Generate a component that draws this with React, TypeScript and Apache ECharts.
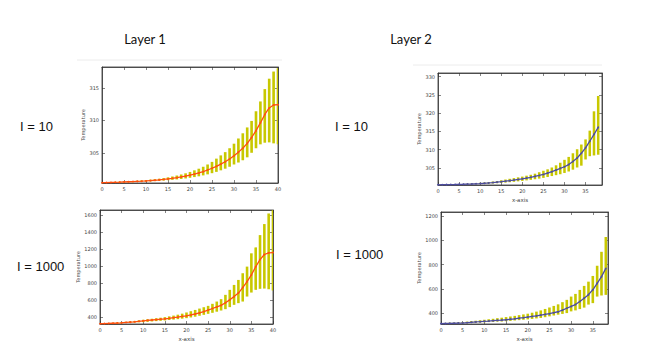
import React, { useEffect, useRef } from "react";
import * as echarts from "echarts";

// ---------- data ----------
const layer1I10Mean = [300.40, 300.42, 300.44, 300.46, 300.48, 300.51, 300.54, 300.57, 300.60, 300.63, 300.67, 300.72, 300.77, 300.83, 300.90, 300.98, 301.07, 301.17, 301.28, 301.41, 301.56, 301.72, 301.90, 302.10, 302.35, 302.62, 302.92, 303.25, 303.62, 304.05, 304.55, 305.10, 305.70, 306.45, 307.35, 308.40, 309.60, 310.90, 311.90, 312.35, 312.40];
const layer1I10High = [300.46, 300.48, 300.50, 300.53, 300.55, 300.58, 300.62, 300.66, 300.70, 300.75, 300.80, 300.86, 300.93, 301.01, 301.10, 301.22, 301.35, 301.50, 301.66, 301.84, 302.05, 302.30, 302.55, 302.85, 303.20, 303.60, 304.10, 304.60, 305.10, 305.70, 306.40, 307.20, 308.00, 308.90, 309.90, 311.40, 312.90, 314.80, 316.40, 317.50, 318.00];
const layer1I10Low = [300.33, 300.35, 300.37, 300.39, 300.41, 300.43, 300.46, 300.48, 300.51, 300.54, 300.57, 300.60, 300.64, 300.68, 300.73, 300.78, 300.84, 300.90, 300.97, 301.05, 301.15, 301.26, 301.38, 301.52, 301.68, 301.86, 302.06, 302.30, 302.55, 302.85, 303.20, 303.50, 303.85, 304.30, 305.00, 305.70, 306.30, 306.55, 306.60, 306.45, 306.30];

const layer1I1000Mean = [318, 320, 322, 324, 326, 329, 333, 337, 341, 347, 353, 358, 362, 367, 371, 376, 382, 389, 396, 404, 412, 422, 433, 446, 462, 480, 498, 516, 535, 565, 600, 638, 680, 745, 815, 894, 990, 1075, 1135, 1155, 1158];
const layer1I1000High = [322, 324, 327, 330, 333, 337, 341, 346, 351, 358, 365, 371, 377, 383, 389, 396, 405, 414, 425, 437, 451, 466, 481, 497, 513, 529, 553, 580, 608, 659, 718, 776, 835, 914, 992, 1149, 1219, 1364, 1494, 1619, 1658];
const layer1I1000Low = [316, 317, 318, 320, 322, 325, 327, 330, 333, 335, 337, 341, 345, 349, 353, 357, 362, 367, 372, 378, 384, 392, 401, 412, 423, 435, 447, 460, 474, 490, 514, 541, 561, 580, 639, 686, 718, 730, 733, 725, 710];

const layer2I10Mean = [300.36, 300.38, 300.40, 300.42, 300.44, 300.47, 300.50, 300.54, 300.58, 300.63, 300.70, 300.78, 300.87, 300.97, 301.08, 301.20, 301.34, 301.49, 301.65, 301.82, 302.00, 302.20, 302.42, 302.66, 302.92, 303.20, 303.55, 303.95, 304.40, 304.85, 305.30, 305.90, 306.75, 307.70, 309.00, 310.50, 312.30, 314.20, 316.10];
const layer2I10High = [300.45, 300.47, 300.49, 300.51, 300.53, 300.56, 300.60, 300.65, 300.72, 300.80, 300.90, 301.00, 301.12, 301.25, 301.40, 301.60, 301.80, 302.00, 302.20, 302.40, 302.60, 302.85, 303.10, 303.40, 303.80, 304.20, 304.60, 305.10, 305.70, 306.40, 307.20, 308.00, 309.00, 310.10, 311.40, 312.80, 315.20, 320.50, 324.70];
const layer2I10Low = [300.30, 300.31, 300.32, 300.34, 300.36, 300.38, 300.40, 300.43, 300.46, 300.50, 300.54, 300.59, 300.65, 300.72, 300.80, 300.88, 300.97, 301.07, 301.18, 301.30, 301.43, 301.57, 301.72, 301.88, 302.05, 302.25, 302.50, 302.75, 303.00, 303.25, 303.60, 304.00, 304.50, 305.10, 305.60, 307.30, 308.20, 308.40, 308.60];

const layer2I1000Mean = [313, 314, 315, 316, 317, 318, 321, 324, 327, 329, 332, 334, 337, 340, 342, 345, 349, 353, 358, 362, 367, 372, 377, 383, 389, 395, 403, 411, 424, 440, 455, 470, 495, 523, 552, 592, 645, 700, 768];
const layer2I1000High = [318, 319, 321, 322, 324, 326, 330, 334, 337, 341, 345, 349, 353, 358, 362, 367, 372, 377, 383, 389, 395, 403, 412, 422, 434, 446, 459, 472, 490, 509, 536, 558, 591, 624, 659, 706, 790, 905, 1027];
const layer2I1000Low = [311, 311, 312, 313, 314, 315, 316, 318, 320, 322, 324, 326, 328, 330, 331, 333, 336, 339, 342, 345, 348, 352, 356, 360, 366, 373, 380, 387, 393, 400, 414, 422, 433, 445, 470, 482, 536, 545, 550];

const xTicksLayer1 = [0, 5, 10, 15, 20, 25, 30, 35, 40];
const xTicksLayer2 = [0, 5, 10, 15, 20, 25, 30, 35];
const yTicksP1 = [305, 310, 315];
const yTicksP2 = [400, 600, 800, 1000, 1200, 1400, 1600];
const yTicksP3 = [305, 310, 315, 320, 325, 330];
const yTicksP4 = [400, 600, 800, 1000, 1200];

const columnTitles = ["Layer 1", "Layer 2"];
const rowLabels = ["I = 10", "I = 1000"];

// ---------- layout ----------
const panels = [
  { grid: { left: 102, top: 67, width: 176, height: 116 }, xMax: 40, xTicks: xTicksLayer1, yMin: 300.35, yMax: 318.2, yTicks: yTicksP1, mean: layer1I10Mean, high: layer1I10High, low: layer1I10Low, lineColor: "#ff4f0f", xName: "", yGap: 16 },
  { grid: { left: 100, top: 210, width: 173, height: 114 }, xMax: 40, xTicks: xTicksLayer1, yMin: 315, yMax: 1660, yTicks: yTicksP2, mean: layer1I1000Mean, high: layer1I1000High, low: layer1I1000Low, lineColor: "#ff4f0f", xName: "x-axis", yGap: 19 },
  { grid: { left: 438, top: 73, width: 164, height: 112 }, xMax: 38.9, xTicks: xTicksLayer2, yMin: 300.3, yMax: 331, yTicks: yTicksP3, mean: layer2I10Mean, high: layer2I10High, low: layer2I10Low, lineColor: "#4d4d9e", xName: "x-axis", yGap: 16 },
  { grid: { left: 441, top: 212, width: 167, height: 112 }, xMax: 38.5, xTicks: xTicksLayer2, yMin: 310, yMax: 1233, yTicks: yTicksP4, mean: layer2I1000Mean, high: layer2I1000High, low: layer2I1000Low, lineColor: "#4d4d9e", xName: "x-axis", yGap: 20 },
];

const frame = "#333";
const labelStyle = { fontSize: 5, color: "#444", fontFamily: "DejaVu Sans" };
const plain = (v: number) => String(v);

export default function App() {
  const ref = useRef<HTMLDivElement>(null);
  useEffect(() => {
    if (!ref.current) return;
    const chart = echarts.init(ref.current, undefined, { renderer: "svg" });

    const grids: any[] = [];
    const xAxes: any[] = [];
    const yAxes: any[] = [];
    const series: any[] = [];

    panels.forEach((p, i) => {
      grids.push({ ...p.grid, show: true, borderColor: frame, borderWidth: 0.8, backgroundColor: "#fff" });
      const xBase = {
        type: "value", gridIndex: i, min: 0, max: p.xMax,
        axisLine: { show: true, onZero: false, lineStyle: { color: frame, width: 0.8 } },
        axisTick: { show: true, inside: true, length: 3, lineStyle: { color: frame, width: 0.6 }, customValues: p.xTicks },
        splitLine: { show: false },
      };
      xAxes.push({
        ...xBase, position: "bottom",
        axisLabel: { ...labelStyle, margin: 3, customValues: p.xTicks, formatter: plain },
        name: p.xName, nameLocation: "middle", nameGap: 12,
        nameTextStyle: { fontSize: 5.5, color: "#444", fontFamily: "DejaVu Sans" },
      });
      xAxes.push({ ...xBase, position: "top", axisLabel: { show: false } });
      const yBase = {
        type: "value", gridIndex: i, min: p.yMin, max: p.yMax,
        axisLine: { show: true, onZero: false, lineStyle: { color: frame, width: 0.8 } },
        axisTick: { show: true, inside: true, length: 3, lineStyle: { color: frame, width: 0.6 }, customValues: p.yTicks },
        splitLine: { show: false },
      };
      yAxes.push({
        ...yBase, position: "left",
        axisLabel: { ...labelStyle, margin: 3, customValues: p.yTicks, formatter: plain },
        name: "Temperature", nameLocation: "middle", nameGap: p.yGap, nameRotate: 90,
        nameTextStyle: { fontSize: 5, color: "#444", fontFamily: "DejaVu Sans" },
      });
      yAxes.push({ ...yBase, position: "right", axisLabel: { show: false } });

      const xIdx = i * 2;
      const yIdx = i * 2;
      const rangeData = p.mean.map((_, k) => [k, p.low[k], p.high[k]]);
      series.push({
        type: "custom",
        xAxisIndex: xIdx,
        yAxisIndex: yIdx,
        clip: true,
        data: rangeData,
        renderItem: (params: any, api: any) => {
          const x = api.value(0);
          const top = api.coord([x, api.value(2)]);
          const bot = api.coord([x, api.value(1)]);
          const w = api.size([1, 0])[0] * 0.6;
          return {
            type: "rect",
            shape: { x: top[0] - w / 2, y: top[1], width: w, height: Math.max(bot[1] - top[1], 1) },
            style: { fill: "#c8c800" },
          };
        },
        z: 2,
      });
      series.push({
        type: "line",
        xAxisIndex: xIdx,
        yAxisIndex: yIdx,
        data: p.mean.map((v, k) => [k, v]),
        showSymbol: true,
        symbol: "circle",
        symbolSize: 1.8,
        itemStyle: { color: p.lineColor },
        lineStyle: { color: p.lineColor, width: 1.3 },
        z: 3,
      });
    });

    const titleFont = "Lato";
    const labelFont = "Liberation Sans";
    const graphic: any[] = [
      { type: "line", shape: { x1: 77, y1: 60, x2: 282, y2: 60 }, style: { stroke: "#ececec", lineWidth: 1 } },
      { type: "line", shape: { x1: 413, y1: 65, x2: 602, y2: 65 }, style: { stroke: "#ececec", lineWidth: 1 } },
      { type: "text", x: 145, y: 39, style: { text: columnTitles[0], font: `13px ${titleFont}`, fill: "#111", align: "center", verticalAlign: "middle" } },
      { type: "text", x: 411, y: 39, style: { text: columnTitles[1], font: `13px ${titleFont}`, fill: "#111", align: "center", verticalAlign: "middle" } },
      { type: "text", x: 20, y: 126, style: { text: rowLabels[0], font: `13px ${labelFont}`, fill: "#111", align: "left", verticalAlign: "middle" } },
      { type: "text", x: 17, y: 266, style: { text: rowLabels[1], font: `13px ${labelFont}`, fill: "#111", align: "left", verticalAlign: "middle" } },
      { type: "text", x: 335, y: 126, style: { text: rowLabels[0], font: `13px ${labelFont}`, fill: "#111", align: "left", verticalAlign: "middle" } },
      { type: "text", x: 336, y: 254, style: { text: rowLabels[1], font: `13px ${labelFont}`, fill: "#111", align: "left", verticalAlign: "middle" } },
    ];

    chart.setOption({
      animation: false,
      backgroundColor: "#fff",
      grid: grids,
      xAxis: xAxes,
      yAxis: yAxes,
      series,
      graphic,
    });
    return () => chart.dispose();
  }, []);

  return (
    <div
      ref={ref}
      style={{ position: "fixed", left: 0, top: 0, width: 660, height: 359, background: "#fff" }}
    />
  );
}
